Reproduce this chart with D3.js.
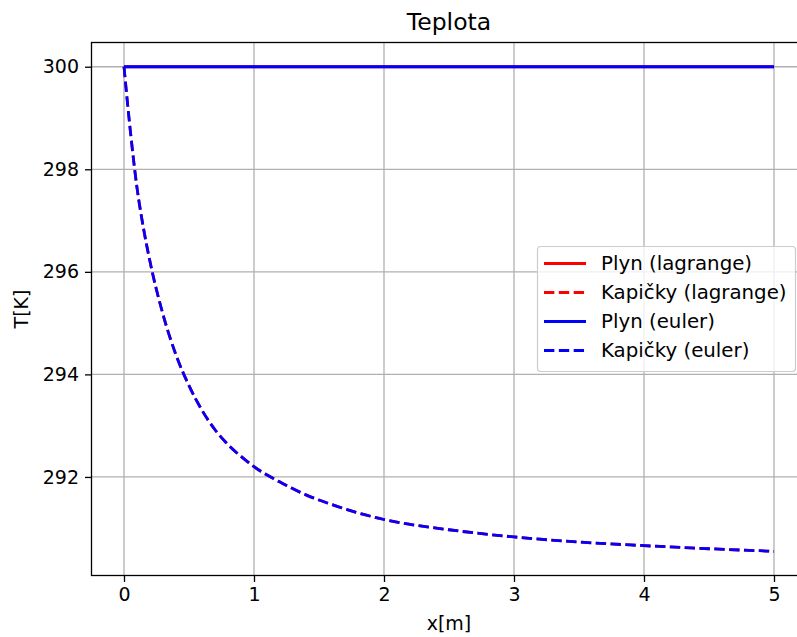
<!DOCTYPE html>
<html><head><meta charset="utf-8">
<script src="https://cdn.jsdelivr.net/npm/d3@7"></script>
<style>body{margin:0;background:#fff;} text{font-family:"DejaVu Sans",sans-serif;}</style>
</head><body>
<script>
const xValues = [0, 0.05, 0.1, 0.15, 0.2, 0.3, 0.4, 0.5, 0.6, 0.7, 0.8, 0.9, 1.0, 1.2, 1.4, 1.6, 1.8, 2.0, 2.5, 3.0, 3.5, 4.0, 4.5, 5.0];
const gasLagrange = [300,300,300,300,300,300,300,300,300,300,300,300,300,300,300,300,300,300,300,300,300,300,300,300];
const dropsLagrange = [300, 298.72, 297.64, 296.85, 296.2, 295.17, 294.38, 293.78, 293.3, 292.92, 292.63, 292.4, 292.2, 291.9, 291.65, 291.46, 291.3, 291.17, 290.97, 290.83, 290.73, 290.66, 290.6, 290.55];
const gasEuler = [300,300,300,300,300,300,300,300,300,300,300,300,300,300,300,300,300,300,300,300,300,300,300,300];
const dropsEuler = [300, 298.72, 297.64, 296.85, 296.2, 295.17, 294.38, 293.78, 293.3, 292.92, 292.63, 292.4, 292.2, 291.9, 291.65, 291.46, 291.3, 291.17, 290.97, 290.83, 290.73, 290.66, 290.6, 290.55];
const xTicks = [0, 1, 2, 3, 4, 5];
const yTicks = [292, 294, 296, 298, 300];
const seriesNames = ["Plyn (lagrange)", "Kapičky (lagrange)", "Plyn (euler)", "Kapičky (euler)"];
const seriesColors = ["#ff0000", "#ff0000", "#0000ff", "#0000ff"];
const seriesDashed = [false, true, false, true];
const titleText = "Teplota";
const xLabel = "x[m]";
const yLabel = "T[K]";

(function () {
const W = 797, H = 637;
const pL = 91.5, pR = 806.5, pT = 42.5, pB = 575.5;
const svg = d3.select("body").append("svg").attr("width", W).attr("height", H);

const x = d3.scaleLinear().domain([-0.25, 5.25]).range([pL, pR]);
const y = d3.scaleLinear().domain([290.078, 300.4725]).range([pB, pT]);

// grid
const g = svg.append("g");
g.selectAll(".gx").data(xTicks).enter().append("line")
  .attr("x1", d => x(d)).attr("x2", d => x(d)).attr("y1", pT).attr("y2", pB)
  .attr("stroke", "#b0b0b0").attr("stroke-width", 1.3);
g.selectAll(".gy").data(yTicks).enter().append("line")
  .attr("y1", d => y(d)).attr("y2", d => y(d)).attr("x1", pL).attr("x2", pR)
  .attr("stroke", "#b0b0b0").attr("stroke-width", 1.3);

// lines
svg.append("defs").append("clipPath").attr("id", "clip").append("rect")
  .attr("x", pL).attr("y", pT).attr("width", pR - pL).attr("height", pB - pT);
const series = [gasLagrange, dropsLagrange, gasEuler, dropsEuler];
const line = d3.line().x((d, i) => x(xValues[i])).y(d => y(d)).curve(d3.curveMonotoneX);
const lw = 2.8;
series.forEach((s, k) => {
  svg.append("path").datum(s).attr("d", line).attr("fill", "none")
    .attr("clip-path", "url(#clip)")
    .attr("stroke", seriesColors[k]).attr("stroke-width", lw)
    .attr("stroke-dasharray", seriesDashed[k] ? `${3.7 * lw},${1.6 * lw}` : null);
});

// axes
const fs = 19;
const xAxis = svg.append("g").attr("transform", `translate(0,${pB})`)
  .call(d3.axisBottom(x).tickValues(xTicks).tickFormat(d3.format("d")).tickSize(6.5).tickPadding(6));
const yAxis = svg.append("g").attr("transform", `translate(${pL},0)`)
  .call(d3.axisLeft(y).tickValues(yTicks).tickFormat(d3.format("d")).tickSize(6.5).tickPadding(6));
[xAxis, yAxis].forEach(a => {
  a.select(".domain").remove();
  a.selectAll(".tick line").attr("stroke", "#000").attr("stroke-width", 1.3);
  a.selectAll(".tick text").attr("font-size", fs).attr("fill", "#000").attr("font-family", '"DejaVu Sans",sans-serif');
});
// spines
svg.append("rect").attr("x", pL).attr("y", pT).attr("width", pR - pL).attr("height", pB - pT)
  .attr("fill", "none").attr("stroke", "#000").attr("stroke-width", 1.3);

// title and labels
svg.append("text").attr("x", (pL + pR) / 2).attr("y", 30).attr("text-anchor", "middle")
  .attr("font-size", 23.5).text(titleText);
svg.append("text").attr("x", (pL + pR) / 2).attr("y", 630).attr("text-anchor", "middle")
  .attr("font-size", fs).text(xLabel);
svg.append("text").attr("transform", `translate(28,${(pT + pB) / 2}) rotate(-90)`).attr("text-anchor", "middle")
  .attr("font-size", fs).text(yLabel);

// legend
const lg = svg.append("g");
lg.append("rect").attr("x", 537.5).attr("y", 246.5).attr("width", 258).attr("height", 125).attr("rx", 3)
  .attr("fill", "#fff").attr("fill-opacity", 0.8).attr("stroke", "#cccccc").attr("stroke-width", 1.2);
seriesNames.forEach((n, k) => {
  const yy = 263.5 + k * 29;
  lg.append("line").attr("x1", 544).attr("x2", 586).attr("y1", yy).attr("y2", yy)
    .attr("stroke", seriesColors[k]).attr("stroke-width", lw)
    .attr("stroke-dasharray", seriesDashed[k] ? `${3.7 * lw},${1.6 * lw}` : null);
  lg.append("text").attr("x", 601).attr("y", yy).attr("dy", "0.35em")
    .attr("font-size", 19.8).text(n);
});
})();
</script>
</body></html>
